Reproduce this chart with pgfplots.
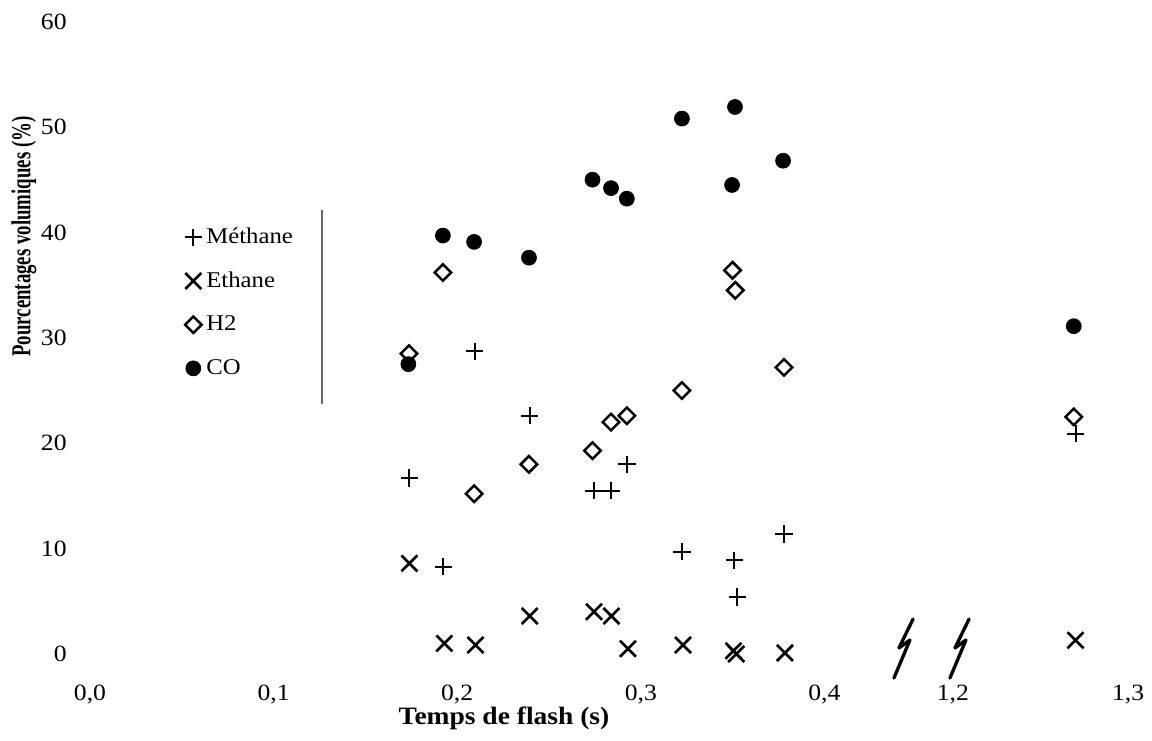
\documentclass[border=0pt]{standalone}
\usepackage{fontspec}
\setmainfont{Liberation Serif}[FakeStretch=1.1]
\newfontfamily\plainserif{Liberation Serif}
\usepackage{graphicx}
\usepackage{pgfplots}
\pgfplotsset{compat=1.18}

% measurements, one picture pixel = 0.6pt
\pgfplotstableread{
x      co
0.1734 27.5
0.1922 39.7
0.2092 39.1
0.2391 37.6
0.2737 45.0
0.2838 44.2
0.2924 43.2
0.3224 50.8
0.3513 51.9
0.3497 44.5
0.3775 46.8
1.269  31.1
}\tblco
\pgfplotstableread{
x      h2
0.1737 28.5
0.1922 36.2
0.2092 15.2
0.2391 18.0
0.2737 19.3
0.2838 22.0
0.2924 22.6
0.3224 25.0
0.3500 36.4
0.3515 34.5
0.3780 27.2
1.269  22.5
}\tblhh
\pgfplotstableread{
x      ch4
0.1740 16.7
0.1925 8.3
0.2095 28.7
0.2395 22.6
0.2745 15.5
0.2840 15.5
0.2925 18.0
0.3225 9.7
0.3510 8.9
0.3525 5.4
0.3780 11.4
1.270  20.9
}\tblmeth
\pgfplotstableread{
x      c2h6
0.1740 8.6
0.1930 1.0
0.2100 0.85
0.2395 3.6
0.2745 4.0
0.2840 3.6
0.2930 0.5
0.3230 0.85
0.3505 0.3
0.3520 0.0
0.3785 0.1
1.270  1.3
}\tbleth

\begin{document}
\begin{tikzpicture}
\begin{axis}[
    x=1101.6pt, y=6.324pt,
    xmin=0, xmax=0.5654, ymin=0, ymax=60,
    enlargelimits=false, clip=false,
    % broken axis: 1.2 -> 0.470 on the plot
    x filter/.expression={x>1 ? 0.470+(x-1.2)*0.954 : x},
    axis line style={draw=none}, tick style={draw=none},
    xtick={0,0.1,0.2,0.3,0.4,0.470,0.5654},
    xticklabels={{0,0},{0,1},{0,2},{0,3},{0,4},{1,2},{1,3}},
    ytick={0,10,20,30,40,50,60},
    yticklabels={0,10,20,30,40,50,60},
    xticklabel style={font=\fontsize{14}{16}\selectfont, anchor=base, yshift=-28.2pt, inner sep=0pt},
    yticklabel style={font=\fontsize{14}{16}\selectfont, anchor=east, xshift=-13.8pt, inner sep=0pt},
    xlabel={Temps de flash (s)},
    xlabel style={font=\fontsize{15}{17}\selectfont\bfseries, at={(axis description cs:0.3988,-0.112)}, anchor=base, inner sep=0pt},
    ylabel={\scalebox{1}[1.45]{\plainserif\bfseries\fontsize{11.3}{13}\selectfont Pourcentages volumiques (\%)}},
    ylabel style={at={(axis description cs:-0.0636,0.66)}, anchor=center, inner sep=0pt},
    legend image code/.code={\path[draw=none, fill=none] (-5pt,-13.1pt) rectangle (5pt,13.1pt);
        \draw[#1] plot coordinates {(0pt,0pt)};},
    legend cell align=left,
    legend style={draw=none, fill=none, inner sep=0pt, outer sep=0pt,
        at={(axis cs:0.05156,41.6)}, anchor=north west,
        font=\fontsize{13.5}{15}\selectfont,
        nodes={inner sep=0pt}, column sep=2.6pt, row sep=0pt},
]
\addplot[only marks, mark=+, mark size=5.2pt, line width=1.2pt, black] table[x=x, y=ch4] {\tblmeth};
\addlegendentry{Méthane}
\addplot[only marks, mark=x, mark size=6.8pt, line width=1.6pt, black] table[x=x, y=c2h6] {\tbleth};
\addlegendentry{Ethane}
\addplot[only marks, mark=square, mark size=3.5pt, line width=1.5pt, black,
    mark options={rotate=45, fill=white}] table[x=x, y=h2] {\tblhh};
\addlegendentry{H2}
\addplot[only marks, mark=*, mark size=4.5pt, black] table[x=x, y=co] {\tblco};
\addlegendentry{CO}

% leftover frame edge next to the legend
\draw[black!60, line width=0.7pt] (axis cs:0.1264,23.7) -- (axis cs:0.1264,42.1);
% axis break marks
\draw[line width=2pt, line cap=round, line join=round]
    (axis cs:0.4483,3.32) -- (axis cs:0.4406,0.57) -- (axis cs:0.4466,1.33) -- (axis cs:0.4379,-2.28);
\draw[line width=2pt, line cap=round, line join=round]
    (axis cs:0.4788,3.32) -- (axis cs:0.4711,0.57) -- (axis cs:0.4771,1.33) -- (axis cs:0.4684,-2.28);
\end{axis}
\pgfresetboundingbox
\path[use as bounding box] (-54pt,-52.2pt) rectangle (637.2pt,392.4pt);
\end{tikzpicture}
\end{document}
